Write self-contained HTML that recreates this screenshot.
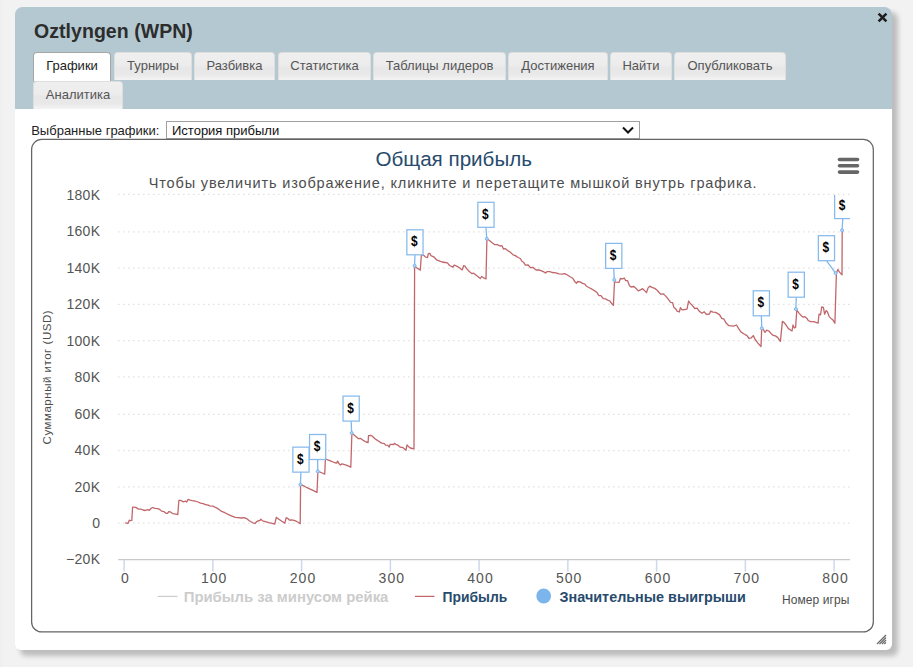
<!DOCTYPE html>
<html lang="ru">
<head>
<meta charset="utf-8">
<title>Oztlyngen (WPN)</title>
<style>
html,body{margin:0;padding:0;}
body{width:913px;height:667px;overflow:hidden;background:#f2f2f2;font-family:"Liberation Sans",sans-serif;position:relative;}
#dlg{position:absolute;left:15px;top:7px;width:877px;height:643px;background:#fff;border-radius:7.5px 7.5px 6px 6px;box-shadow:5.5px 5.5px 5px rgba(0,0,0,.22);}
#hdr{position:absolute;left:0;top:0;width:877px;height:102px;background:#b3c8d0;border-radius:7.5px 7.5px 0 0;}
#ttl{position:absolute;left:19px;top:13px;font-size:19.5px;line-height:22px;letter-spacing:.05px;font-weight:bold;color:#2d2d2d;white-space:nowrap;}
#cls{position:absolute;left:862px;top:5px;width:11px;height:11px;}
.tab{position:absolute;height:28px;line-height:25px;box-sizing:border-box;border:1px solid #dedede;border-bottom:none;border-radius:4px 4px 0 0;background:linear-gradient(#efefef 0%,#ececec 45%,#e7e7e7 55%,#e9e9e9 80%,#f3f3f3 100%);color:#555;font-size:13px;text-align:center;white-space:nowrap;}
.tab.act{background:#fff;border-color:#a6a6a6;color:#222;height:29px;}
#lbl{position:absolute;left:16.2px;top:116px;font-size:13px;line-height:16px;color:#222;white-space:nowrap;}
#sel{position:absolute;left:151px;top:114px;width:474px;height:18px;box-sizing:border-box;border:1px solid #a0a0a0;background:#fff;font-size:13px;line-height:16px;color:#111;white-space:nowrap;}
#sel span{position:absolute;left:5px;top:.5px;}
#chart{position:absolute;left:16px;top:132px;width:843px;height:494px;box-sizing:border-box;border:1px solid transparent;border-radius:10px;background:#fff;}
svg#ov{position:absolute;left:0;top:0;width:913px;height:667px;}
svg text{font-family:"Liberation Sans",sans-serif;}
.ax{font-size:14px;fill:#555;}
</style>
</head>
<body>
<div style="position:absolute;left:0;top:0;width:4px;height:667px;background:#f1f1f1;border-left:1px solid #eee;box-sizing:border-box;"></div>
<div id="dlg">
  <div id="hdr"></div>
  <div id="ttl">Oztlyngen (WPN)</div>
  <svg id="cls" viewBox="0 0 11 11"><path d="M1.6 1.6 L9.4 9.4 M9.4 1.6 L1.6 9.4" stroke="#1e1e1e" stroke-width="2.6" fill="none"/></svg>
  <div class="tab act" style="left:18px;top:45px;width:78px;">Графики</div>
  <div class="tab" style="left:99px;top:45px;width:78px;">Турниры</div>
  <div class="tab" style="left:179px;top:45px;width:81px;">Разбивка</div>
  <div class="tab" style="left:263px;top:45px;width:93px;">Статистика</div>
  <div class="tab" style="left:358px;top:45px;width:133px;">Таблицы лидеров</div>
  <div class="tab" style="left:493px;top:45px;width:100px;">Достижения</div>
  <div class="tab" style="left:595px;top:45px;width:62px;">Найти</div>
  <div class="tab" style="left:659px;top:45px;width:112px;">Опубликовать</div>
  <div class="tab" style="left:18px;top:74px;width:90px;height:28px;">Аналитика</div>
  <div id="lbl">Выбранные графики:</div>
  <div id="sel"><span>История прибыли</span></div>
  <div id="chart"></div>
</div>
<svg id="ov" viewBox="0 0 913 667">
  <rect x="31.62" y="139.42" width="841.7" height="492.5" rx="10" ry="10" fill="none" stroke="#646464" stroke-width="1.25"/>
  <!-- select chevron -->
  <path d="M623 127.5 L628 132.5 L633 127.5" stroke="#111" stroke-width="2" fill="none"/>
  <!-- title -->
  <text x="375.4" y="166" font-size="20.5" fill="#274b6d" textLength="156.6" lengthAdjust="spacingAndGlyphs">Общая прибыль</text>
  <text x="148.7" y="188.3" font-size="14.5" fill="#4d4d4d" textLength="607.8" lengthAdjust="spacing">Чтобы увеличить изображение, кликните и перетащите мышкой внутрь графика.</text>
  <!-- menu button -->
  <g stroke="#666" stroke-width="3.6" stroke-linecap="round" fill="none">
    <path d="M839.5 159.5 H857.5"/><path d="M839.5 165.8 H857.5"/><path d="M839.5 172.1 H857.5"/>
  </g>
  <!-- grid -->
  <path d="M118.2 194.40 H850" stroke="#dadada" stroke-width="1.25" stroke-dasharray="1.25,3.75" fill="none"/>
<path d="M118.2 231.90 H850" stroke="#dadada" stroke-width="1.25" stroke-dasharray="1.25,3.75" fill="none"/>
<path d="M118.2 268.10 H850" stroke="#dadada" stroke-width="1.25" stroke-dasharray="1.25,3.75" fill="none"/>
<path d="M118.2 304.40 H850" stroke="#dadada" stroke-width="1.25" stroke-dasharray="1.25,3.75" fill="none"/>
<path d="M118.2 340.60 H850" stroke="#dadada" stroke-width="1.25" stroke-dasharray="1.25,3.75" fill="none"/>
<path d="M118.2 376.90 H850" stroke="#dadada" stroke-width="1.25" stroke-dasharray="1.25,3.75" fill="none"/>
<path d="M118.2 414.40 H850" stroke="#dadada" stroke-width="1.25" stroke-dasharray="1.25,3.75" fill="none"/>
<path d="M118.2 450.60 H850" stroke="#dadada" stroke-width="1.25" stroke-dasharray="1.25,3.75" fill="none"/>
<path d="M118.2 486.90 H850" stroke="#dadada" stroke-width="1.25" stroke-dasharray="1.25,3.75" fill="none"/>
<path d="M118.2 523.10 H850" stroke="#dadada" stroke-width="1.25" stroke-dasharray="1.25,3.75" fill="none"/>
  <!-- axis -->
  <path d="M118.2 559.5 H850" stroke="#c8c8c8" stroke-width="1.25" fill="none"/>
  <path d="M124.10 560 V571.6" stroke="#cfd7ed" stroke-width="1.5" fill="none"/>
<text x="125.5" y="583.3" text-anchor="middle" class="ax" style="letter-spacing:1px">0</text>
<path d="M212.85 560 V571.6" stroke="#cfd7ed" stroke-width="1.5" fill="none"/>
<text x="214.2" y="583.3" text-anchor="middle" class="ax" style="letter-spacing:1px">100</text>
<path d="M301.60 560 V571.6" stroke="#cfd7ed" stroke-width="1.5" fill="none"/>
<text x="303.0" y="583.3" text-anchor="middle" class="ax" style="letter-spacing:1px">200</text>
<path d="M390.35 560 V571.6" stroke="#cfd7ed" stroke-width="1.5" fill="none"/>
<text x="391.8" y="583.3" text-anchor="middle" class="ax" style="letter-spacing:1px">300</text>
<path d="M479.10 560 V571.6" stroke="#cfd7ed" stroke-width="1.5" fill="none"/>
<text x="480.5" y="583.3" text-anchor="middle" class="ax" style="letter-spacing:1px">400</text>
<path d="M567.85 560 V571.6" stroke="#cfd7ed" stroke-width="1.5" fill="none"/>
<text x="569.2" y="583.3" text-anchor="middle" class="ax" style="letter-spacing:1px">500</text>
<path d="M656.60 560 V571.6" stroke="#cfd7ed" stroke-width="1.5" fill="none"/>
<text x="658.0" y="583.3" text-anchor="middle" class="ax" style="letter-spacing:1px">600</text>
<path d="M745.35 560 V571.6" stroke="#cfd7ed" stroke-width="1.5" fill="none"/>
<text x="746.8" y="583.3" text-anchor="middle" class="ax" style="letter-spacing:1px">700</text>
<path d="M834.10 560 V571.6" stroke="#cfd7ed" stroke-width="1.5" fill="none"/>
<text x="835.5" y="583.3" text-anchor="middle" class="ax" style="letter-spacing:1px">800</text>
  <text x="100.3" y="199.8" text-anchor="end" class="ax" style="letter-spacing:.3px">180K</text>
<text x="100.3" y="236.3" text-anchor="end" class="ax" style="letter-spacing:.3px">160K</text>
<text x="100.3" y="272.8" text-anchor="end" class="ax" style="letter-spacing:.3px">140K</text>
<text x="100.3" y="309.2" text-anchor="end" class="ax" style="letter-spacing:.3px">120K</text>
<text x="100.3" y="345.7" text-anchor="end" class="ax" style="letter-spacing:.3px">100K</text>
<text x="100.3" y="382.1" text-anchor="end" class="ax" style="letter-spacing:.3px">80K</text>
<text x="100.3" y="418.6" text-anchor="end" class="ax" style="letter-spacing:.3px">60K</text>
<text x="100.3" y="455.0" text-anchor="end" class="ax" style="letter-spacing:.3px">40K</text>
<text x="100.3" y="491.5" text-anchor="end" class="ax" style="letter-spacing:.3px">20K</text>
<text x="100.3" y="527.9" text-anchor="end" class="ax" style="letter-spacing:.3px">0</text>
<text x="100.3" y="564.4" text-anchor="end" class="ax" style="letter-spacing:.3px">−20K</text>
  <text transform="translate(50.5,444.4) rotate(-90)" font-size="11.5" fill="#4d4d4d" textLength="134" lengthAdjust="spacing">Суммарный итог (USD)</text>
  <text x="782" y="604" font-size="12" fill="#4d4d4d" textLength="67.4" lengthAdjust="spacing">Номер игры</text>
  <!-- series -->
  <polyline points="125.3,522.6 126.6,523.1 127.9,523.5 129.3,520.2 130.4,520.6 131.8,520.4 132.6,507.2 134.2,507.2 136.4,507.6 138.6,509.2 140.8,509.2 143.0,510.0 145.2,510.5 147.4,509.6 149.4,510.3 151.2,508.3 152.6,507.5 155.0,508.3 157.8,508.7 160.0,509.6 161.6,511.1 163.8,511.6 166.0,513.3 167.6,513.3 168.7,511.6 170.4,511.9 172.6,513.6 174.8,513.8 177.8,514.6 178.9,500.3 180.8,500.4 183.0,501.8 185.7,501.2 186.8,502.0 188.1,499.4 190.1,500.1 192.3,500.7 195.0,501.0 198.0,502.0 200.5,503.2 203.2,503.7 206.0,504.8 207.6,504.8 209.8,505.8 213.1,506.1 215.0,507.2 218.3,508.9 221.6,511.4 224.9,512.7 228.1,514.4 231.4,515.8 235.3,517.4 238.0,517.6 241.3,518.0 244.0,517.6 246.8,518.7 250.0,521.3 252.8,522.8 255.0,523.5 256.6,521.7 258.8,520.7 259.9,520.6 260.8,519.1 262.6,520.9 265.4,521.7 268.7,522.6 271.4,523.1 274.7,524.2 276.3,517.4 278.5,519.0 281.8,521.3 284.9,523.1 286.2,517.6 288.2,518.7 289.5,520.2 291.7,519.8 295.0,520.7 297.7,522.0 300.2,523.7 300.6,484.7 303.7,485.8 307.0,487.7 310.2,489.1 313.5,490.7 317.0,492.4 317.9,471.5 319.5,471.9 322.3,473.0 324.7,474.1 325.4,459.0 327.8,459.8 331.0,461.1 334.3,462.5 336.7,463.1 337.6,461.1 338.9,463.6 340.4,465.0 342.0,463.9 344.7,464.6 347.5,465.7 350.8,467.2 351.9,433.2 354.1,434.9 356.2,436.8 358.4,438.7 360.6,438.4 362.8,440.1 366.1,442.0 368.1,442.5 368.5,435.7 370.5,435.4 372.1,436.0 374.9,438.7 378.1,440.9 379.8,441.8 380.0,442.3 382.0,443.2 384.3,443.6 385.9,445.2 387.9,445.4 389.2,447.0 390.2,444.3 391.9,444.3 393.5,444.5 394.5,443.4 395.8,444.3 397.8,445.1 399.8,446.9 401.1,447.4 402.4,447.4 404.1,448.5 406.0,450.2 407.0,444.9 408.4,446.4 410.3,448.0 412.3,448.5 414.0,448.9 414.6,266.4 417.3,268.3 420.3,270.1 421.4,254.8 423.3,255.1 425.5,257.0 427.5,257.6 428.3,253.7 429.9,253.5 431.0,255.7 433.7,256.8 436.5,259.8 439.2,260.9 442.0,262.0 445.2,262.5 447.4,262.8 449.6,265.5 452.9,267.2 454.2,265.0 456.7,266.1 459.5,267.7 462.2,269.9 463.6,265.7 465.0,266.1 466.6,268.6 469.3,271.5 472.1,273.7 473.7,273.2 476.5,275.4 480.3,278.5 481.6,276.5 483.6,277.8 486.0,278.9 486.9,239.0 489.1,240.3 491.8,242.5 494.5,244.5 497.3,244.7 500.0,246.0 502.0,245.7 503.5,249.0 505.5,248.7 508.2,250.9 510.4,252.3 513.1,254.9 515.3,255.6 518.1,257.5 520.3,258.5 521.9,261.3 523.5,262.2 525.4,265.1 527.9,264.8 530.4,267.6 532.9,267.3 536.1,270.0 538.9,269.8 542.2,271.1 544.4,272.2 545.5,273.1 546.9,271.7 549.8,271.7 552.6,272.5 555.9,272.8 559.1,273.9 562.4,274.2 564.6,273.6 567.4,275.0 570.1,276.8 572.8,278.3 575.0,281.9 576.5,283.2 577.8,281.5 580.0,281.9 582.7,283.4 584.9,284.1 586.5,286.3 589.3,287.8 592.0,289.2 594.7,290.9 595.0,290.9 597.2,292.8 598.8,295.5 601.0,295.7 603.2,298.6 605.4,298.8 607.6,300.1 609.8,301.0 611.4,303.2 613.4,305.4 614.5,281.8 616.4,282.2 619.1,282.4 620.4,278.5 622.4,278.9 624.4,278.2 625.7,280.7 627.6,280.7 629.5,285.7 631.1,287.0 633.9,286.5 636.1,288.4 638.3,290.9 640.5,289.8 642.6,288.7 644.8,290.9 646.5,292.5 648.1,287.9 649.8,286.2 652.0,287.3 654.7,288.4 656.9,290.0 659.1,292.5 660.7,294.2 663.5,293.9 666.2,296.6 668.4,299.4 670.6,302.3 672.5,302.6 673.9,307.4 675.8,308.9 677.1,311.1 679.3,312.0 680.4,307.6 682.1,309.8 684.8,309.5 687.0,309.2 688.6,301.0 690.0,303.1 692.2,305.3 694.9,308.5 697.1,308.2 699.3,311.3 702.0,313.3 704.2,311.8 706.4,314.4 709.5,314.0 710.6,311.1 713.0,312.2 715.7,312.4 719.4,314.6 721.8,318.4 724.0,319.2 726.1,323.1 728.9,325.7 733.3,326.1 736.5,325.0 738.7,328.6 740.9,331.9 743.7,333.7 747.0,335.6 749.1,338.5 751.3,337.8 753.3,335.6 755.2,339.5 757.9,343.1 761.0,346.6 761.7,328.6 763.4,329.7 765.0,332.3 766.7,330.1 768.9,331.0 771.6,334.1 773.2,335.4 775.4,335.9 777.6,337.4 780.4,341.4 782.4,321.4 784.2,322.6 786.0,325.0 788.4,328.6 790.2,329.8 792.0,331.0 793.0,325.0 794.4,328.0 795.6,327.4 796.8,310.0 798.6,312.6 801.0,315.4 803.4,317.2 804.6,316.6 807.0,318.4 808.2,320.5 810.6,321.7 813.6,321.7 816.6,322.6 818.1,323.2 819.0,314.2 820.5,314.8 821.7,307.0 823.4,307.3 824.6,314.2 826.2,310.6 827.4,311.8 829.2,316.6 831.0,318.4 832.8,319.8 834.9,323.2 836.4,273.4 837.8,269.4 839.5,272.1 842.0,274.9 842.2,230.5" fill="none" stroke="#c1666a" stroke-width="1.3" stroke-linejoin="round"/>
  <!-- flags -->
  <g clip-path="url(#pc)">
  <path d="M300.95 472.15 L300.40 484.60" stroke="#7cb5ec" stroke-width="1.25" fill="none"/>
<circle cx="300.40" cy="484.60" r="1.5" fill="#b9d8f5" stroke="#7cb5ec" stroke-width="1"/>
<rect x="292.85" y="447.15" width="16.20" height="25.00" fill="#fff" stroke="#86baed" stroke-width="1.25"/>
<text x="297.05" y="463.65" font-size="14" font-weight="bold" fill="#000" textLength="6.6" lengthAdjust="spacingAndGlyphs">$</text>
<path d="M317.65 459.50 L317.80 471.40" stroke="#7cb5ec" stroke-width="1.25" fill="none"/>
<circle cx="317.80" cy="471.40" r="1.5" fill="#b9d8f5" stroke="#7cb5ec" stroke-width="1"/>
<rect x="309.55" y="434.50" width="16.20" height="25.00" fill="#fff" stroke="#86baed" stroke-width="1.25"/>
<text x="313.75" y="451.00" font-size="14" font-weight="bold" fill="#000" textLength="6.6" lengthAdjust="spacingAndGlyphs">$</text>
<path d="M351.15 421.10 L351.70 433.10" stroke="#7cb5ec" stroke-width="1.25" fill="none"/>
<circle cx="351.70" cy="433.10" r="1.5" fill="#b9d8f5" stroke="#7cb5ec" stroke-width="1"/>
<rect x="343.05" y="396.10" width="16.20" height="25.00" fill="#fff" stroke="#86baed" stroke-width="1.25"/>
<text x="347.25" y="412.60" font-size="14" font-weight="bold" fill="#000" textLength="6.6" lengthAdjust="spacingAndGlyphs">$</text>
<path d="M414.95 254.80 L414.60 265.80" stroke="#7cb5ec" stroke-width="1.25" fill="none"/>
<circle cx="414.60" cy="265.80" r="1.5" fill="#b9d8f5" stroke="#7cb5ec" stroke-width="1"/>
<rect x="406.85" y="229.80" width="16.20" height="25.00" fill="#fff" stroke="#86baed" stroke-width="1.25"/>
<text x="411.05" y="246.30" font-size="14" font-weight="bold" fill="#000" textLength="6.6" lengthAdjust="spacingAndGlyphs">$</text>
<path d="M485.95 227.30 L486.80 238.80" stroke="#7cb5ec" stroke-width="1.25" fill="none"/>
<circle cx="486.80" cy="238.80" r="1.5" fill="#b9d8f5" stroke="#7cb5ec" stroke-width="1"/>
<rect x="477.85" y="202.30" width="16.20" height="25.00" fill="#fff" stroke="#86baed" stroke-width="1.25"/>
<text x="482.05" y="218.80" font-size="14" font-weight="bold" fill="#000" textLength="6.6" lengthAdjust="spacingAndGlyphs">$</text>
<path d="M613.75 268.40 L614.30 279.90" stroke="#7cb5ec" stroke-width="1.25" fill="none"/>
<circle cx="614.30" cy="279.90" r="1.5" fill="#b9d8f5" stroke="#7cb5ec" stroke-width="1"/>
<rect x="605.65" y="243.40" width="16.20" height="25.00" fill="#fff" stroke="#86baed" stroke-width="1.25"/>
<text x="609.85" y="259.90" font-size="14" font-weight="bold" fill="#000" textLength="6.6" lengthAdjust="spacingAndGlyphs">$</text>
<path d="M761.35 315.80 L761.80 328.30" stroke="#7cb5ec" stroke-width="1.25" fill="none"/>
<circle cx="761.80" cy="328.30" r="1.5" fill="#b9d8f5" stroke="#7cb5ec" stroke-width="1"/>
<rect x="753.25" y="290.80" width="16.20" height="25.00" fill="#fff" stroke="#86baed" stroke-width="1.25"/>
<text x="757.45" y="307.30" font-size="14" font-weight="bold" fill="#000" textLength="6.6" lengthAdjust="spacingAndGlyphs">$</text>
<path d="M796.25 297.20 L795.90 309.10" stroke="#7cb5ec" stroke-width="1.25" fill="none"/>
<circle cx="795.90" cy="309.10" r="1.5" fill="#b9d8f5" stroke="#7cb5ec" stroke-width="1"/>
<rect x="788.15" y="272.20" width="16.20" height="25.00" fill="#fff" stroke="#86baed" stroke-width="1.25"/>
<text x="792.35" y="288.70" font-size="14" font-weight="bold" fill="#000" textLength="6.6" lengthAdjust="spacingAndGlyphs">$</text>
<path d="M826.45 260.70 L835.60 273.10" stroke="#7cb5ec" stroke-width="1.25" fill="none"/>
<circle cx="835.60" cy="273.10" r="1.5" fill="#b9d8f5" stroke="#7cb5ec" stroke-width="1"/>
<rect x="818.35" y="235.70" width="16.20" height="25.00" fill="#fff" stroke="#86baed" stroke-width="1.25"/>
<text x="822.55" y="252.20" font-size="14" font-weight="bold" fill="#000" textLength="6.6" lengthAdjust="spacingAndGlyphs">$</text>
<path d="M842.75 218.60 L842.10 230.30" stroke="#7cb5ec" stroke-width="1.25" fill="none"/>
<circle cx="842.10" cy="230.30" r="1.5" fill="#b9d8f5" stroke="#7cb5ec" stroke-width="1"/>
<rect x="834.65" y="193.60" width="16.20" height="25.00" fill="#fff" stroke="#86baed" stroke-width="1.25"/>
<text x="838.85" y="210.10" font-size="14" font-weight="bold" fill="#000" textLength="6.6" lengthAdjust="spacingAndGlyphs">$</text>
  </g>
  <defs><clipPath id="pc"><rect x="118" y="195" width="732" height="365"/></clipPath></defs>
  <!-- legend -->
  <path d="M157.7 596.4 H177.5" stroke="#ccc" stroke-width="1.25" fill="none"/>
  <text x="183.7" y="602.2" font-size="15.5" font-weight="bold" fill="#ccc" textLength="204.7" lengthAdjust="spacingAndGlyphs">Прибыль за минусом рейка</text>
  <path d="M415 596.4 H434.5" stroke="#c1666a" stroke-width="1.25" fill="none"/>
  <text x="442.6" y="602.2" font-size="15.5" font-weight="bold" fill="#274b6d" textLength="64.7" lengthAdjust="spacingAndGlyphs">Прибыль</text>
  <circle cx="543.7" cy="596" r="7.4" fill="#7cb5ec"/>
  <text x="559.6" y="602.2" font-size="15.5" font-weight="bold" fill="#274b6d" textLength="186.3" lengthAdjust="spacingAndGlyphs">Значительные выигрыши</text>
  <!-- resize grip -->
  <g stroke="#6a6a6a" stroke-width="1.2" fill="none">
    <path d="M877 644 L886 635"/><path d="M879.5 644 L886 637.5"/><path d="M882 644 L886 640"/><path d="M884.3 644 L886 642.3"/>
  </g>
</svg>
</body>
</html>
